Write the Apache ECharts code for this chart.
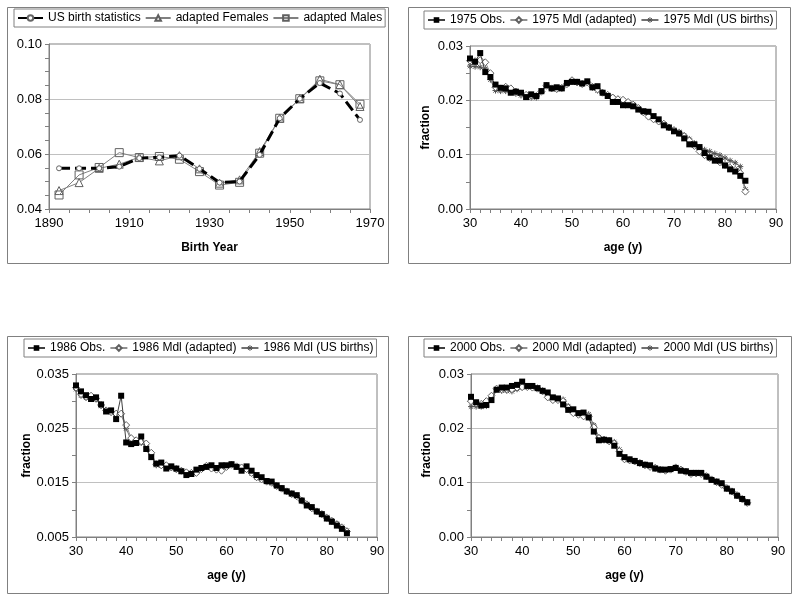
<!DOCTYPE html>
<html><head><meta charset="utf-8">
<script src="https://cdn.jsdelivr.net/npm/echarts@6/dist/echarts.min.js"></script>
<style>html,body{margin:0;padding:0;background:#fff}#c{width:800px;height:600px}</style>
</head><body><div id="c"></div>
<script>
// ---- Panel 1: birth-year cohorts ----
const birthYears = [1892.5,1897.5,1902.5,1907.5,1912.5,1917.5,1922.5,1927.5,1932.5,1937.5,1942.5,1947.5,1952.5,1957.5,1962.5,1967.5];
const usBirthStats = [0.0548,0.0548,0.0548,0.0554,0.0585,0.0588,0.0594,0.0546,0.0496,0.0500,0.0597,0.0730,0.0801,0.0858,0.0820,0.0724];
const adaptedFemales = [0.0467,0.0496,0.0548,0.0563,0.0588,0.0575,0.0594,0.0546,0.0494,0.0506,0.0609,0.0730,0.0801,0.0872,0.0852,0.0773];
const adaptedMales = [0.0451,0.0524,0.0551,0.0605,0.0587,0.0591,0.0581,0.0536,0.0487,0.0497,0.0603,0.0730,0.0801,0.0866,0.0852,0.0781];

// ---- Age panels: ages 30..84 ----
const ages = [30,31,32,33,34,35,36,37,38,39,40,41,42,43,44,45,46,47,48,49,50,51,52,53,54,55,56,57,58,59,60,61,62,63,64,65,66,67,68,69,70,71,72,73,74,75,76,77,78,79,80,81,82,83,84];

const obs1975 = [0.0277,0.0271,0.0287,0.0252,0.0243,0.0229,0.0223,0.0222,0.0214,0.0216,0.0214,0.0206,0.0211,0.0208,0.0217,0.0228,0.0222,0.0224,0.0222,0.0232,0.0234,0.0234,0.0231,0.0235,0.0224,0.0226,0.0214,0.0208,0.0197,0.0197,0.0191,0.0191,0.0189,0.0183,0.0180,0.0179,0.0171,0.0165,0.0154,0.0150,0.0143,0.0139,0.0130,0.0119,0.0119,0.0114,0.0103,0.0095,0.0089,0.0089,0.0080,0.0073,0.0069,0.0061,0.0052];
const adapted1975 = [0.0273,0.0272,0.0274,0.0270,0.0250,0.0224,0.0222,0.0225,0.0222,0.0216,0.0212,0.0210,0.0209,0.0208,0.0216,0.0227,0.0222,0.0221,0.0223,0.0230,0.0237,0.0233,0.0230,0.0233,0.0225,0.0220,0.0214,0.0210,0.0205,0.0202,0.0201,0.0197,0.0192,0.0186,0.0178,0.0170,0.0165,0.0161,0.0157,0.0150,0.0145,0.0140,0.0134,0.0126,0.0116,0.0106,0.0099,0.0094,0.0091,0.0086,0.0081,0.0076,0.0072,0.0066,0.0032];
const usb1975 = [0.0263,0.0262,0.0261,0.0258,0.0238,0.0218,0.0217,0.0217,0.0215,0.0212,0.0209,0.0207,0.0205,0.0205,0.0215,0.0226,0.0221,0.0220,0.0222,0.0229,0.0234,0.0232,0.0231,0.0232,0.0223,0.0218,0.0214,0.0210,0.0206,0.0203,0.0200,0.0196,0.0192,0.0185,0.0177,0.0171,0.0166,0.0162,0.0156,0.0151,0.0146,0.0142,0.0136,0.0129,0.0121,0.0114,0.0109,0.0106,0.0102,0.0099,0.0094,0.0089,0.0085,0.0078,0.0036];

const obs1986 = [0.0329,0.0318,0.0311,0.0304,0.0307,0.0294,0.0281,0.0283,0.0267,0.0310,0.0224,0.0221,0.0223,0.0235,0.0212,0.0197,0.0185,0.0187,0.0176,0.0180,0.0176,0.0171,0.0164,0.0166,0.0174,0.0177,0.0179,0.0182,0.0177,0.0182,0.0182,0.0184,0.0179,0.0172,0.0180,0.0172,0.0164,0.0160,0.0153,0.0152,0.0145,0.0140,0.0134,0.0130,0.0127,0.0117,0.0108,0.0105,0.0097,0.0092,0.0084,0.0078,0.0071,0.0065,0.0057];
const adapted1986 = [0.0325,0.0313,0.0308,0.0310,0.0305,0.0293,0.0283,0.0280,0.0277,0.0277,0.0256,0.0232,0.0228,0.0226,0.0222,0.0205,0.0184,0.0182,0.0182,0.0178,0.0175,0.0172,0.0169,0.0168,0.0168,0.0175,0.0181,0.0176,0.0174,0.0172,0.0179,0.0183,0.0180,0.0178,0.0175,0.0168,0.0160,0.0156,0.0152,0.0150,0.0144,0.0139,0.0134,0.0129,0.0125,0.0117,0.0110,0.0103,0.0097,0.0092,0.0085,0.0079,0.0073,0.0067,0.0060];
const usb1986 = [0.0322,0.0310,0.0306,0.0307,0.0303,0.0291,0.0282,0.0279,0.0276,0.0276,0.0250,0.0228,0.0225,0.0223,0.0219,0.0202,0.0182,0.0181,0.0180,0.0177,0.0174,0.0171,0.0169,0.0168,0.0169,0.0176,0.0180,0.0177,0.0175,0.0174,0.0180,0.0183,0.0180,0.0177,0.0174,0.0167,0.0159,0.0155,0.0151,0.0149,0.0143,0.0139,0.0134,0.0129,0.0125,0.0118,0.0111,0.0104,0.0098,0.0093,0.0087,0.0081,0.0075,0.0069,0.0062];

const obs2000 = [0.0258,0.0248,0.0242,0.0243,0.0252,0.0271,0.0275,0.0275,0.0278,0.0280,0.0286,0.0278,0.0278,0.0274,0.0269,0.0266,0.0257,0.0255,0.0244,0.0234,0.0235,0.0228,0.0229,0.0220,0.0194,0.0178,0.0179,0.0178,0.0168,0.0153,0.0147,0.0143,0.0140,0.0136,0.0133,0.0132,0.0126,0.0124,0.0124,0.0125,0.0127,0.0122,0.0121,0.0118,0.0118,0.0118,0.0111,0.0105,0.0102,0.0099,0.0089,0.0084,0.0076,0.0070,0.0064];
const adapted2000 = [0.0250,0.0246,0.0245,0.0250,0.0260,0.0273,0.0272,0.0272,0.0272,0.0275,0.0276,0.0276,0.0275,0.0273,0.0268,0.0257,0.0252,0.0252,0.0250,0.0238,0.0228,0.0225,0.0222,0.0222,0.0202,0.0182,0.0179,0.0176,0.0172,0.0158,0.0143,0.0141,0.0139,0.0136,0.0132,0.0129,0.0127,0.0124,0.0122,0.0124,0.0128,0.0124,0.0120,0.0116,0.0117,0.0116,0.0112,0.0106,0.0101,0.0096,0.0090,0.0084,0.0077,0.0070,0.0063];
const usb2000 = [0.0240,0.0240,0.0240,0.0241,0.0258,0.0272,0.0269,0.0269,0.0268,0.0272,0.0275,0.0276,0.0276,0.0275,0.0270,0.0259,0.0255,0.0254,0.0253,0.0241,0.0230,0.0227,0.0225,0.0226,0.0206,0.0184,0.0180,0.0178,0.0175,0.0161,0.0145,0.0142,0.0140,0.0137,0.0133,0.0130,0.0128,0.0125,0.0123,0.0125,0.0129,0.0125,0.0121,0.0117,0.0117,0.0116,0.0112,0.0106,0.0101,0.0096,0.0089,0.0083,0.0076,0.0069,0.0062];

const FONT = '"Liberation Sans", Arial, sans-serif';
const AX = '#808080', GRIDC = '#c0c0c0';
const ASTER = 'path://M0,5L10,5M5,0L5,10M1.5,1.5L8.5,8.5M8.5,1.5L1.5,8.5';

function pair(xs, ys){ return xs.map((x,i)=>[x, ys[i]]); }

const grids = [
  {left:49, top:44, width:321, height:165},
  {left:470, top:46, width:306, height:163},
  {left:76, top:374, width:301, height:163},
  {left:471, top:374, width:307, height:163}
];
grids.forEach(g=>{ g.show = true; g.borderColor = AX; g.borderWidth = 1; g.backgroundColor = '#fff'; });

function xAxisDef(gi, min, max, interval, split, name){
  return {type:'value', gridIndex:gi, min, max, interval,
    name, nameLocation:'middle', nameGap:33,
    nameTextStyle:{fontFamily:FONT, fontSize:12, fontWeight:'bold', color:'#000'},
    axisLine:{show:true, onZero:false, lineStyle:{color:AX, width:1}},
    axisTick:{show:true, inside:false, length:4, lineStyle:{color:AX}},
    minorTick:{show:true, splitNumber:split, length:4, lineStyle:{color:AX}},
    splitLine:{show:false},
    axisLabel:{fontFamily:FONT, fontSize:13, color:'#000', margin:8, formatter:v=>String(v)}
  };
}
function yAxisDef(gi, min, max, interval, split, dec, name){
  return {type:'value', gridIndex:gi, min, max, interval,
    name, nameLocation:'middle', nameGap:38,
    nameTextStyle:{fontFamily:FONT, fontSize:12, fontWeight:'bold', color:'#000'},
    axisLine:{show:true, lineStyle:{color:AX, width:1}},
    axisTick:{show:true, inside:false, length:4, lineStyle:{color:AX}},
    minorTick:{show:true, splitNumber:split, length:4, lineStyle:{color:AX}},
    splitLine:{show:true, lineStyle:{color:GRIDC, width:1}},
    axisLabel:{fontFamily:FONT, fontSize:13, color:'#000', margin:7, formatter:v=>v.toFixed(dec)}
  };
}

const xAxes = [
  xAxisDef(0,1890,1970,20,4,'Birth Year'),
  xAxisDef(1,30,90,10,5,'age (y)'),
  xAxisDef(2,30,90,10,5,'age (y)'),
  xAxisDef(3,30,90,10,5,'age (y)')
];
const yAxes = [
  yAxisDef(0,0.04,0.10,0.02,4,2,''),
  yAxisDef(1,0,0.03,0.01,2,2,'fraction'),
  yAxisDef(2,0.005,0.035,0.01,2,3,'fraction'),
  yAxisDef(3,0,0.03,0.01,2,2,'fraction')
];

const series = [];
function add(gi, name, data, opts){
  series.push(Object.assign({type:'line', name, xAxisIndex:gi, yAxisIndex:gi, data, animation:false, showSymbol:true}, opts));
}
// panel 1
add(0,'US birth statistics', pair(birthYears, usBirthStats), {
  symbol:'circle', symbolSize:5, z:5,
  lineStyle:{color:'#000', width:3, type:[11,5]},
  itemStyle:{color:'#fff', borderColor:'#666', borderWidth:1}
});
add(0,'adapted Females', pair(birthYears, adaptedFemales), {
  symbol:'triangle', symbolSize:8, z:3,
  lineStyle:{color:'#808080', width:1},
  itemStyle:{color:'#fff', borderColor:'#606060', borderWidth:1}
});
add(0,'adapted Males', pair(birthYears, adaptedMales), {
  symbol:'rect', symbolSize:8, z:4,
  lineStyle:{color:'#808080', width:1},
  itemStyle:{color:'rgba(255,255,255,0)', borderColor:'#606060', borderWidth:1}
});
// age panels
[[1,'1975',obs1975,adapted1975,usb1975],[2,'1986',obs1986,adapted1986,usb1986],[3,'2000',obs2000,adapted2000,usb2000]].forEach(([gi,yr,o,a,u])=>{
  add(gi, yr+' Mdl (US births)', pair(ages,u), {
    symbol:ASTER, symbolSize:6, z:2,
    lineStyle:{color:'#707070', width:1},
    itemStyle:{color:'rgba(0,0,0,0)', borderColor:'#505050', borderWidth:1}
  });
  add(gi, yr+' Mdl (adapted)', pair(ages,a), {
    symbol:'diamond', symbolSize:7, z:3,
    lineStyle:{color:'#909090', width:1},
    itemStyle:{color:'#fff', borderColor:'#606060', borderWidth:1}
  });
  add(gi, yr+' Obs.', pair(ages,o), {
    symbol:'rect', symbolSize:6, z:4,
    lineStyle:{color:'#404040', width:1},
    itemStyle:{color:'#000', borderColor:'#000', borderWidth:0}
  });
});

function legendDef(left, top, names, iw){
  return {show:true, left, top, orient:'horizontal', itemGap:4, itemWidth:iw, itemHeight:7,
    data:names.map(n=> /US births/.test(n)
      ? {name:n, itemStyle:{color:'rgba(0,0,0,0)', borderColor:'#505050', borderWidth:1}}
      : {name:n}),
    padding:[3,3,3,3], borderColor:AX, borderWidth:1, backgroundColor:'#fff',
    selectedMode:false,
    textStyle:{fontFamily:FONT, fontSize:12, color:'#000'}};
}
const legends = [
  legendDef(14, 9, ['US birth statistics','adapted Females','adapted Males'], 25),
  legendDef(424, 11, ['1975 Obs.','1975 Mdl (adapted)','1975 Mdl (US births)'], 17),
  legendDef(24, 339, ['1986 Obs.','1986 Mdl (adapted)','1986 Mdl (US births)'], 17),
  legendDef(424, 339, ['2000 Obs.','2000 Mdl (adapted)','2000 Mdl (US births)'], 17)
];

const frames = [[7,7,381,256],[408,7,382,256],[7,336,381,257],[408,336,383,257]].map(([x,y,w,h])=>({
  type:'rect', shape:{x:x+0.5,y:y+0.5,width:w,height:h}, style:{fill:'none', stroke:AX, lineWidth:1}, z:-10, silent:true
}));

const chart = echarts.init(document.getElementById('c'), null, {renderer:'canvas'});
chart.setOption({
  animation:false,
  backgroundColor:'#fff',
  graphic: frames,
  grid: grids, xAxis: xAxes, yAxis: yAxes, legend: legends, series
});
</script></body></html>
